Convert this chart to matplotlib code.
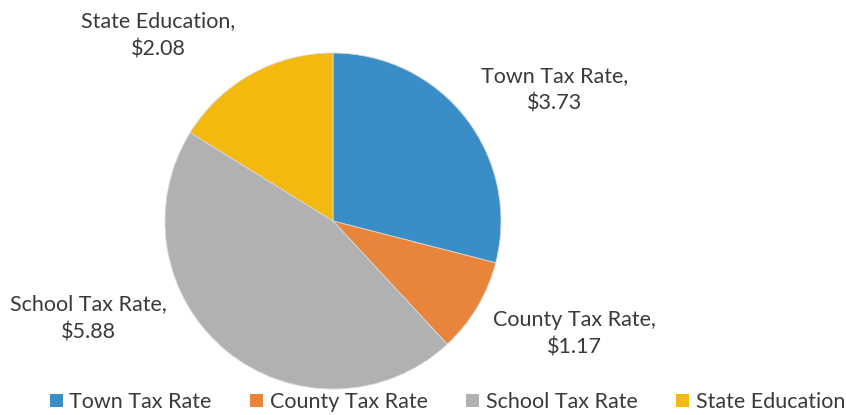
import matplotlib
matplotlib.use("Agg")
import matplotlib.pyplot as plt
from matplotlib.patches import Patch

categories = ["Town Tax Rate", "County Tax Rate", "School Tax Rate", "State Education"]
values = [3.73, 1.17, 5.88, 2.08]
colors = ["#3a8ec8", "#e8853b", "#b1b1b1", "#f3b90f"]

plt.rcParams['font.family'] = ['Lato', 'DejaVu Sans']

W, H = 846, 415
fig = plt.figure(figsize=(W / 100, H / 100), dpi=100)
fig.patch.set_facecolor("white")

cx, cy, r = 333, 221, 168
ax = fig.add_axes([(cx - r) / W, (H - cy - r) / H, 2 * r / W, 2 * r / H])
wedges, _ = ax.pie(values, colors=colors, startangle=90, counterclock=False,
                   radius=1, wedgeprops=dict(linewidth=0.6, edgecolor="#d8d8d8"))
ax.set_xlim(-1, 1)
ax.set_ylim(-1, 1)
ax.set_aspect("equal")
ax.axis("off")

label_pos = [(555, 90), (574, 334), (88, 318), (158, 35)]
for cat, val, (x, y) in zip(categories, values, label_pos):
    fig.text(x / W, 1 - y / H, f"{cat},\n\\${val:.2f}", ha="center", va="center",
             fontsize=15.5, color="#3a3a3a", linespacing=1.5)

handles = [Patch(facecolor=c, edgecolor="none") for c in colors]
fig.legend(handles, categories, loc="center", bbox_to_anchor=(447.5 / W, 1 - 402 / H),
           ncol=4, frameon=False, fontsize=15.5, handlelength=0.6, handleheight=0.6,
           handletextpad=0.3, columnspacing=1.8, labelcolor="#3a3a3a",
           borderpad=0, borderaxespad=0)

fig.savefig("out.png", dpi=100, facecolor="white")
